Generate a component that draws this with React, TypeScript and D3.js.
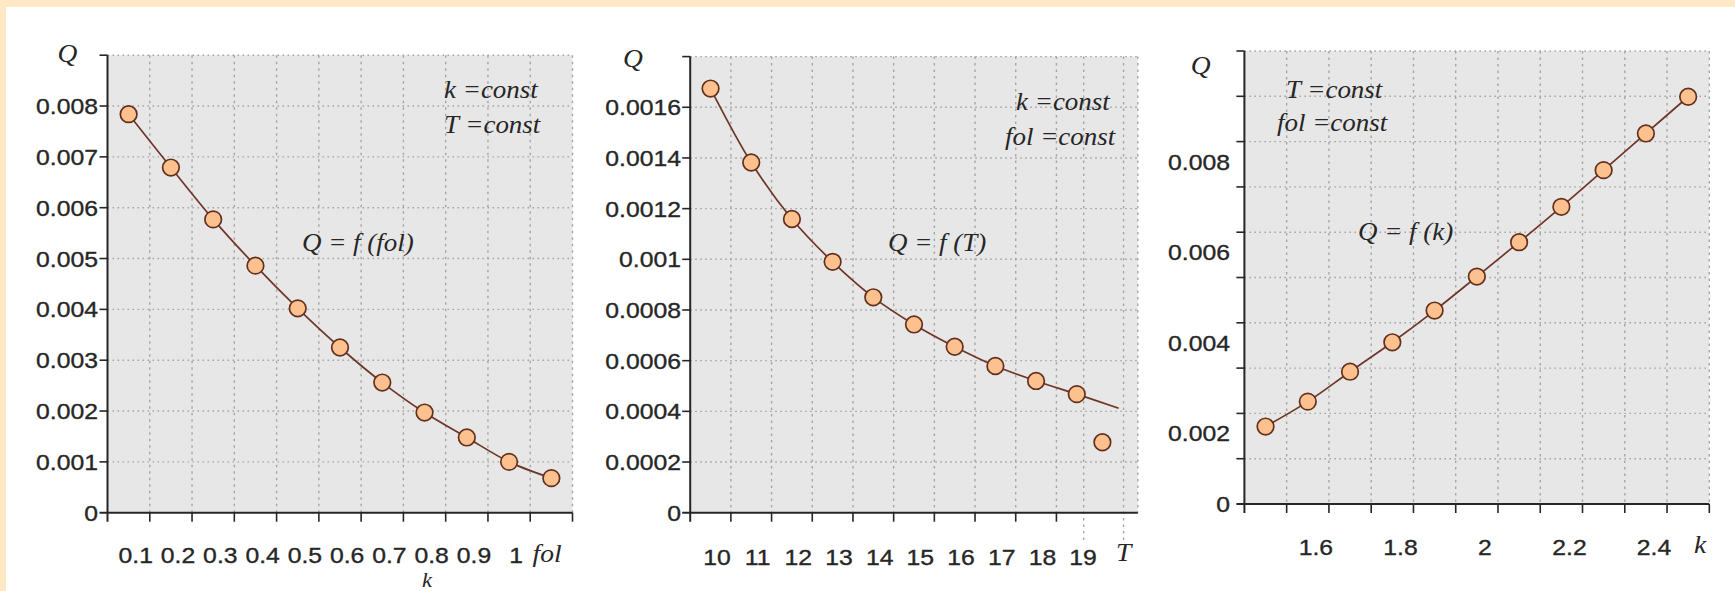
import React from "react";
import * as d3 from "d3";

// ---------------- Data ----------------
// Panel 1: Q = f(fol)   (k = const, T = const)
const folPoints = [0.05, 0.15, 0.25, 0.35, 0.45, 0.55, 0.65, 0.75, 0.85, 0.95, 1.05];
const qByFol = [0.00784, 0.00679, 0.00577, 0.00486, 0.00402, 0.00325, 0.00256, 0.00197, 0.00148, 0.001, 0.00068];
const folTicks = [0.1, 0.2, 0.3, 0.4, 0.5, 0.6, 0.7, 0.8, 0.9, 1.0, 1.1];
const folLabelValues = [0.1, 0.2, 0.3, 0.4, 0.5, 0.6, 0.7, 0.8, 0.9, 1.0];
const folLabels = ["0.1", "0.2", "0.3", "0.4", "0.5", "0.6", "0.7", "0.8", "0.9", "1"];
const qFolTicks = [0.001, 0.002, 0.003, 0.004, 0.005, 0.006, 0.007, 0.008, 0.009];
const qFolLabelValues = [0, 0.001, 0.002, 0.003, 0.004, 0.005, 0.006, 0.007, 0.008];
const qFolLabels = ["0", "0.001", "0.002", "0.003", "0.004", "0.005", "0.006", "0.007", "0.008"];

// Panel 2: Q = f(T)   (k = const, fol = const)
const tPoints = [9.5, 10.5, 11.5, 12.5, 13.5, 14.5, 15.5, 16.5, 17.5, 18.5, 19.13];
const qByT = [0.001674, 0.001382, 0.001159, 0.00099, 0.00085, 0.000743, 0.000655, 0.000579, 0.00052, 0.000468, 0.000278];
const tCurve = [9.5, 10.5, 11.5, 12.5, 13.5, 14.5, 15.5, 16.5, 17.5, 18.5, 19.53];
const qTCurve = [0.001674, 0.001382, 0.001159, 0.00099, 0.00085, 0.000743, 0.000655, 0.000579, 0.00052, 0.000468, 0.000412];
const tTicks = [10, 11, 12, 13, 14, 15, 16, 17, 18];
const tGrid = [10, 11, 12, 13, 14, 15, 16, 17, 18, 20];
const tExtraGrid = [18.67, 19.65];
const tLabelValues = [10, 11, 12, 13, 14, 15, 16, 17, 18, 19];
const tLabels = ["10", "11", "12", "13", "14", "15", "16", "17", "18", "19"];
const qTTicks = [0.0002, 0.0004, 0.0006, 0.0008, 0.001, 0.0012, 0.0014, 0.0016, 0.0018];
const qTLabelValues = [0, 0.0002, 0.0004, 0.0006, 0.0008, 0.001, 0.0012, 0.0014, 0.0016];
const qTLabels = ["0", "0.0002", "0.0004", "0.0006", "0.0008", "0.001", "0.0012", "0.0014", "0.0016"];

// Panel 3: Q = f(k)   (T = const, fol = const)
const kPoints = [1.45, 1.55, 1.65, 1.75, 1.85, 1.95, 2.05, 2.15, 2.25, 2.35, 2.45];
const qByK = [0.00171, 0.00226, 0.00292, 0.00357, 0.00427, 0.00502, 0.00578, 0.00656, 0.00737, 0.00818, 0.00899];
const kTicks = [1.5, 1.6, 1.7, 1.8, 1.9, 2.0, 2.1, 2.2, 2.3, 2.4, 2.5];
const kLabelValues = [1.6, 1.8, 2.0, 2.2, 2.4];
const kLabels = ["1.6", "1.8", "2", "2.2", "2.4"];
const qKTicks = [0.001, 0.002, 0.003, 0.004, 0.005, 0.006, 0.007, 0.008, 0.009, 0.01];
// in the original the labels sit about half a tick below their tick marks
const qKLabelValues = [0, 0.00156, 0.00355, 0.00557, 0.00756];
const qKLabels = ["0", "0.002", "0.004", "0.006", "0.008"];

// ---------------- Styles ----------------
const SANS = "'Liberation Sans', Arial, sans-serif";
const SERIF = "'Liberation Serif', 'Times New Roman', serif";
const SX = 1.1; // original picture is slightly stretched horizontally
const AXIS = "#262626";
const GRID = "#a6a6a6";
const PLOT_BG = "#e7e7e7";
const LINE = "#6e3628";
const DOT_FILL = "#fdc08f";
const DOT_STROKE = "#63301c";
const TXT = "#262626";

function Txt(props: {
  x: number; y: number; text: string; size: number; serif?: boolean; italic?: boolean;
  anchor?: "start" | "middle" | "end"; dy?: string;
}) {
  const { x, y, text, size, serif, italic, anchor = "middle", dy } = props;
  return (
    <text
      transform={`translate(${x},${y}) scale(${SX},1)`}
      fontSize={size}
      fontFamily={serif ? SERIF : SANS}
      fontStyle={italic ? "italic" : "normal"}
      textAnchor={anchor}
      dy={dy}
      fill={TXT}
      stroke={serif ? "none" : TXT}
      strokeWidth={serif ? 0 : 0.35}
    >
      {text}
    </text>
  );
}

type Note = { text: string; x: number; y: number; anchor?: "start" | "middle" | "end"; size?: number };

type PanelProps = {
  x0: number; x1: number; xDomain: [number, number];
  yBottom: number; yTop: number; yDomain: [number, number];
  xTicks: number[]; xGrid: number[]; extraGrid?: number[]; extraGridBottom?: number;
  xLabelValues: number[]; xLabels: string[]; xLabelDx: number; xLabelBaseline: number;
  yTicks: number[]; yLabelValues: number[]; yLabels: string[]; yLabelRight: number;
  px: number[]; py: number[]; cx: number[]; cy: number[];
  axisName: Note; qLabel: Note; notes: Note[];
};

function Panel(p: PanelProps) {
  const xs = d3.scaleLinear().domain(p.xDomain).range([p.x0, p.x1]);
  const ys = d3.scaleLinear().domain(p.yDomain).range([p.yBottom, p.yTop]);
  const y0 = ys(p.yDomain[0]);
  const yT = ys(p.yDomain[1]);
  const line = d3
    .line<number>()
    .x((_, i) => xs(p.cx[i]))
    .y((d) => ys(d))
    .curve(d3.curveCatmullRom.alpha(0.5));
  return (
    <g>
      <rect x={p.x0} y={yT} width={p.x1 - p.x0} height={y0 - yT} fill={PLOT_BG} />
      {p.yTicks.map((v) => (
        <line key={"hg" + v} x1={p.x0} x2={p.x1} y1={ys(v)} y2={ys(v)} stroke={GRID} strokeWidth={1.4} strokeDasharray="1.6 3.4" />
      ))}
      {p.xGrid.map((v) => (
        <line key={"vg" + v} x1={xs(v)} x2={xs(v)} y1={yT} y2={y0} stroke={GRID} strokeWidth={1.4} strokeDasharray="2.5 4" />
      ))}
      {(p.extraGrid || []).map((v) => (
        <line key={"eg" + v} x1={xs(v)} x2={xs(v)} y1={yT} y2={p.extraGridBottom} stroke={GRID} strokeWidth={1.4} strokeDasharray="2.5 4" />
      ))}
      {/* axes */}
      <line x1={p.x0} x2={p.x0} y1={yT} y2={y0 + 9} stroke={AXIS} strokeWidth={2} />
      <line x1={p.x0 - 8} x2={p.x1} y1={y0} y2={y0} stroke={AXIS} strokeWidth={2} />
      {p.yTicks.map((v) => (
        <line key={"yt" + v} x1={p.x0 - 8} x2={p.x0} y1={ys(v)} y2={ys(v)} stroke={AXIS} strokeWidth={1.6} />
      ))}
      {p.xTicks.map((v) => (
        <line key={"xt" + v} x1={xs(v)} x2={xs(v)} y1={y0} y2={y0 + 9} stroke={AXIS} strokeWidth={1.6} />
      ))}
      {p.yLabelValues.map((v, i) => (
        <Txt key={"yl" + i} x={p.yLabelRight} y={ys(v)} text={p.yLabels[i]} size={22.5} anchor="end" dy="0.36em" />
      ))}
      {p.xLabelValues.map((v, i) => (
        <Txt key={"xl" + i} x={xs(v) + p.xLabelDx} y={p.xLabelBaseline} text={p.xLabels[i]} size={22.5} />
      ))}
      <Txt x={p.axisName.x} y={p.axisName.y} text={p.axisName.text} size={25} serif italic anchor={p.axisName.anchor || "middle"} />
      <Txt x={p.qLabel.x} y={p.qLabel.y} text={p.qLabel.text} size={25} serif italic />
      {p.notes.map((n, i) => (
        <Txt key={"n" + i} x={n.x} y={n.y} text={n.text} size={n.size || 24.5} serif italic anchor={n.anchor || "start"} />
      ))}
      <path d={line(p.cy) || ""} fill="none" stroke={LINE} strokeWidth={1.7} />
      {p.px.map((v, i) => (
        <circle key={"pt" + i} cx={xs(v)} cy={ys(p.py[i])} r={8.3} fill={DOT_FILL} stroke={DOT_STROKE} strokeWidth={1.7} />
      ))}
    </g>
  );
}

export default function App() {
  return (
    <svg
      width={1735}
      height={591}
      viewBox="0 0 1735 591"
      style={{ position: "absolute", left: 0, top: 0, display: "block", background: "#ffffff" }}
    >
      <rect x={0} y={0} width={1735} height={591} fill="#ffffff" />
      <rect x={0} y={0} width={1735} height={7} fill="#ffe8c4" />
      <rect x={0} y={0} width={6} height={591} fill="#ffe8c4" />

      <Panel
        x0={107.5} x1={572.5} xDomain={[0, 1.1]}
        yBottom={512.7} yTop={55.2} yDomain={[0, 0.009]}
        xTicks={folTicks} xGrid={folTicks}
        xLabelValues={folLabelValues} xLabels={folLabels} xLabelDx={-14} xLabelBaseline={563}
        yTicks={qFolTicks} yLabelValues={qFolLabelValues} yLabels={qFolLabels} yLabelRight={98}
        px={folPoints} py={qByFol} cx={folPoints} cy={qByFol}
        axisName={{ text: "fol", x: 547, y: 562 }}
        qLabel={{ text: "Q", x: 67.5, y: 62 }}
        notes={[
          { text: "k =const", x: 444, y: 98 },
          { text: "T =const", x: 444, y: 132.5 },
          { text: "Q = f (fol)", x: 302, y: 251 },
          { text: "k", x: 427, y: 586.5, anchor: "middle", size: 20.5 },
        ]}
      />

      <Panel
        x0={690.2} x1={1137.8} xDomain={[9, 20]}
        yBottom={512.7} yTop={56.6} yDomain={[0, 0.0018]}
        xTicks={tTicks} xGrid={tGrid} extraGrid={tExtraGrid} extraGridBottom={541}
        xLabelValues={tLabelValues} xLabels={tLabels} xLabelDx={-14} xLabelBaseline={565}
        yTicks={qTTicks} yLabelValues={qTLabelValues} yLabels={qTLabels} yLabelRight={681}
        px={tPoints} py={qByT} cx={tCurve} cy={qTCurve}
        axisName={{ text: "T", x: 1123.7, y: 561 }}
        qLabel={{ text: "Q", x: 633, y: 67 }}
        notes={[
          { text: "k =const", x: 1016, y: 110 },
          { text: "fol =const", x: 1005, y: 145 },
          { text: "Q = f (T)", x: 888, y: 251 },
        ]}
      />

      <Panel
        x0={1244.4} x1={1709.3} xDomain={[1.4, 2.5]}
        yBottom={504} yTop={51} yDomain={[0, 0.01]}
        xTicks={kTicks} xGrid={kTicks}
        xLabelValues={kLabelValues} xLabels={kLabels} xLabelDx={-13} xLabelBaseline={555}
        yTicks={qKTicks} yLabelValues={qKLabelValues} yLabels={qKLabels} yLabelRight={1230}
        px={kPoints} py={qByK} cx={kPoints} cy={qByK}
        axisName={{ text: "k", x: 1700, y: 553 }}
        qLabel={{ text: "Q", x: 1200.7, y: 74 }}
        notes={[
          { text: "T =const", x: 1286, y: 98 },
          { text: "fol =const", x: 1277, y: 131 },
          { text: "Q = f (k)", x: 1358, y: 240 },
        ]}
      />
    </svg>
  );
}
